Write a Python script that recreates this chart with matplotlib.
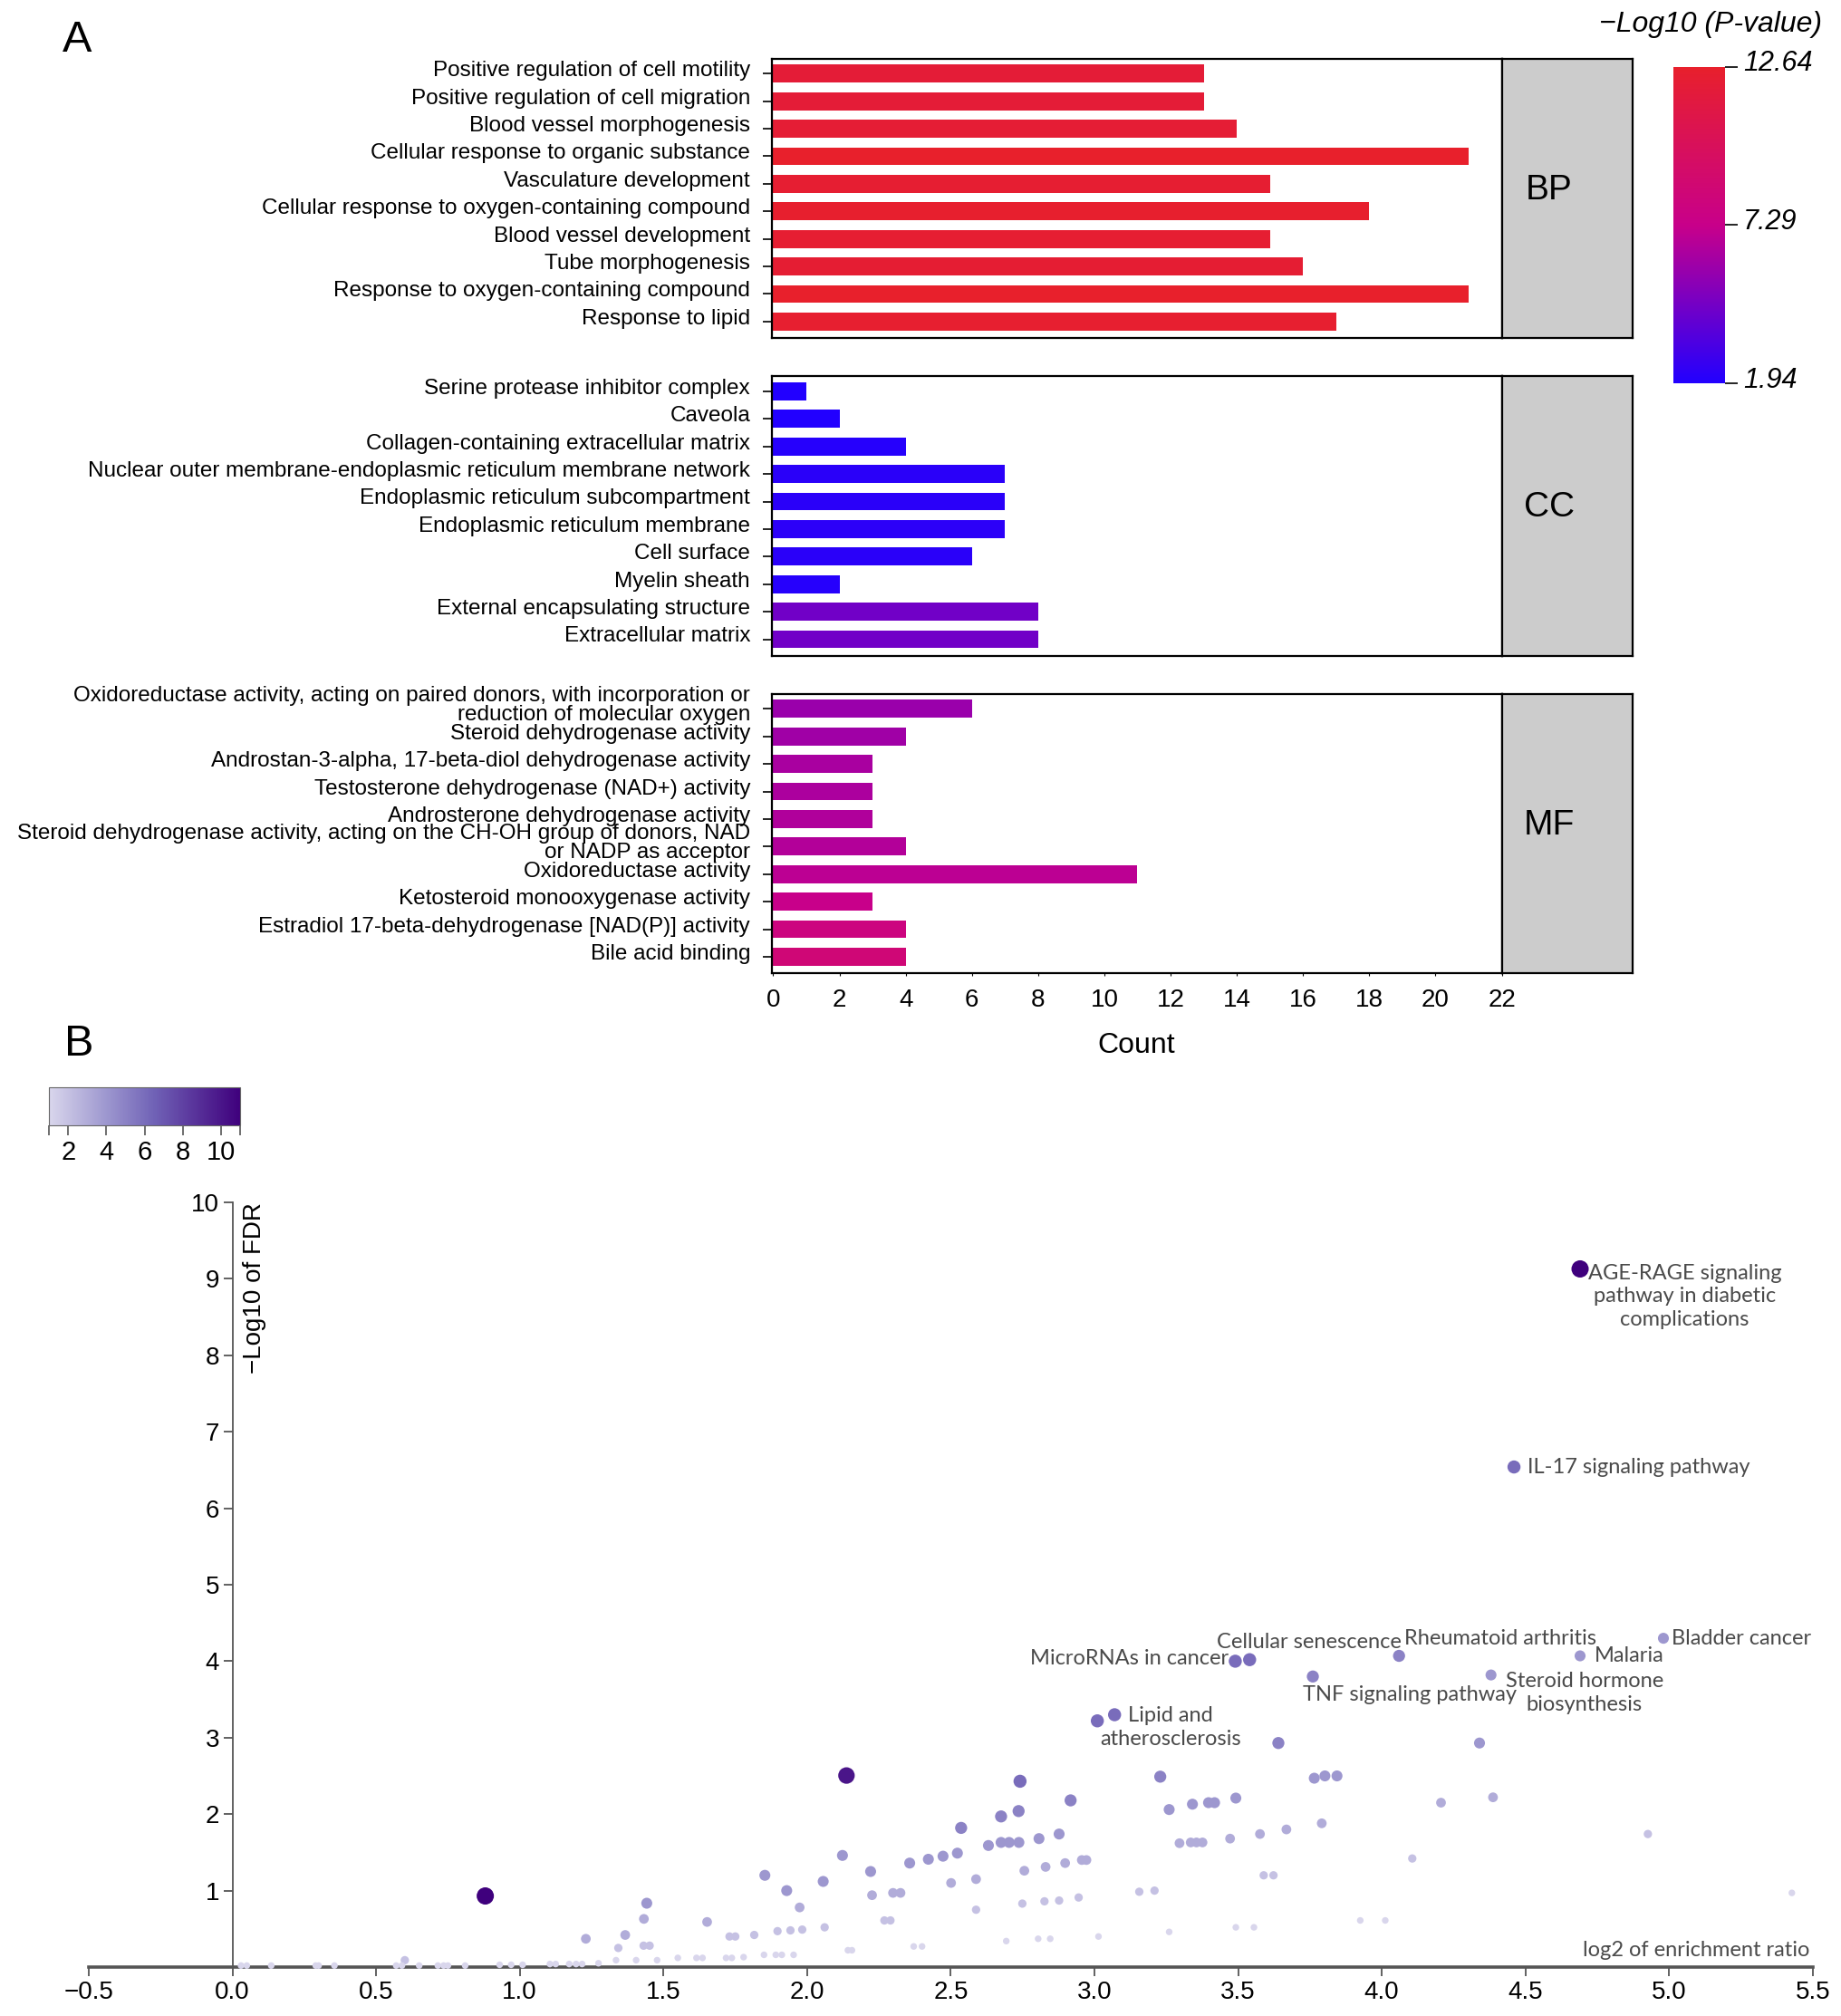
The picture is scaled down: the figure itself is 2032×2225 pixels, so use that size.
import numpy as np
import matplotlib
matplotlib.use("Agg")
import matplotlib.pyplot as plt
import matplotlib.cm as cm
import matplotlib.transforms as mtransforms
from matplotlib.colors import LinearSegmentedColormap, Normalize

plt.rcParams['font.family'] = ['Liberation Sans', 'DejaVu Sans']

# --------------------------
# Panel A: GO terms
# --------------------------
bp_terms = ["Positive regulation of cell motility",
            "Positive regulation of cell migration",
            "Blood vessel morphogenesis",
            "Cellular response to organic substance",
            "Vasculature development",
            "Cellular response to oxygen-containing compound",
            "Blood vessel development",
            "Tube morphogenesis",
            "Response to oxygen-containing compound",
            "Response to lipid"]
bp_count = [13, 13, 14, 21, 15, 18, 15, 16, 21, 17]
bp_logp = [12.0, 12.0, 12.1, 12.6, 12.3, 12.5, 12.3, 12.2, 12.64, 12.4]

cc_terms = ["Serine protease inhibitor complex",
            "Caveola",
            "Collagen-containing extracellular matrix",
            "Nuclear outer membrane-endoplasmic reticulum membrane network",
            "Endoplasmic reticulum subcompartment",
            "Endoplasmic reticulum membrane",
            "Cell surface",
            "Myelin sheath",
            "External encapsulating structure",
            "Extracellular matrix"]
cc_count = [1, 2, 4, 7, 7, 7, 6, 2, 8, 8]
cc_logp = [1.94, 1.98, 2.1, 2.2, 2.2, 2.3, 2.2, 2.1, 4.5, 4.5]

mf_terms = ["Oxidoreductase activity, acting on paired donors, with incorporation or\nreduction of molecular oxygen",
            "Steroid dehydrogenase activity",
            "Androstan-3-alpha, 17-beta-diol dehydrogenase activity",
            "Testosterone dehydrogenase (NAD+) activity",
            "Androsterone dehydrogenase activity",
            "Steroid dehydrogenase activity, acting on the CH-OH group of donors, NAD\nor NADP as acceptor",
            "Oxidoreductase activity",
            "Ketosteroid monooxygenase activity",
            "Estradiol 17-beta-dehydrogenase [NAD(P)] activity",
            "Bile acid binding"]
mf_count = [6, 4, 3, 3, 3, 4, 11, 3, 4, 4]
mf_logp = [5.8, 6.0, 6.3, 6.4, 6.5, 6.6, 6.9, 7.3, 7.9, 8.4]

count_ticks = list(range(0, 23, 2))
pval_ticks = [1.94, 7.29, 12.64]

# --------------------------
# Panel B: KEGG volcano
# --------------------------
kegg_x = [4.69, 4.46, 4.98, 4.69, 4.06, 3.49, 3.54, 3.76, 4.38, 3.01, 3.07, 3.64, 4.34, 2.137, 0.88,
          2.741, 2.675, 2.736, 2.536, 3.229, 2.917,
          2.631, 2.675, 2.703, 2.737, 2.523, 2.473, 2.422, 2.357, 2.123, 2.221, 2.056, 1.853, 1.929, 1.442,
          2.807, 2.877, 3.260, 3.341, 3.397, 3.418, 3.492, 3.765, 3.802, 3.844, 4.206, 4.387,
          1.974, 2.226, 2.299, 2.325, 2.501, 2.588, 2.756, 2.830, 2.898, 2.956, 2.972, 3.296, 3.335, 3.355,
          3.376, 3.472, 3.576, 3.668, 3.791, 1.432, 1.652, 1.367, 1.230,
          0.600, 1.343, 1.431, 1.452, 1.730, 1.750, 1.816, 1.897, 1.942, 1.983, 2.061, 2.269, 2.290, 2.588,
          2.749, 2.826, 2.877, 2.945, 3.156, 3.209, 3.589, 3.623, 4.106, 4.926,
          0.03, 0.05, 0.135, 0.29, 0.30, 0.355, 0.57, 0.59, 0.65, 0.715, 0.735, 0.75, 0.81,
          0.93, 0.97, 1.01, 1.105, 1.125, 1.172, 1.196, 1.217, 1.274,
          1.335, 1.405, 1.478, 1.55, 1.615, 1.636, 1.718, 1.738, 1.779, 1.850, 1.891, 1.912, 1.953,
          2.142, 2.156, 2.371, 2.400, 2.693, 2.804, 2.846, 3.014, 3.260, 3.492, 3.555, 3.925, 4.012, 5.427]
kegg_y = [9.13, 6.54, 4.30, 4.07, 4.07, 4.00, 4.02, 3.80, 3.82, 3.22, 3.30, 2.93, 2.93, 2.505, 0.93,
          2.43, 1.97, 2.04, 1.82, 2.49, 2.18,
          1.59, 1.63, 1.63, 1.63, 1.49, 1.45, 1.41, 1.36, 1.46, 1.25, 1.12, 1.20, 1.00, 0.835,
          1.68, 1.74, 2.06, 2.13, 2.15, 2.15, 2.21, 2.47, 2.50, 2.50, 2.15, 2.22,
          0.78, 0.94, 0.97, 0.97, 1.10, 1.15, 1.26, 1.31, 1.36, 1.40, 1.40, 1.62, 1.63, 1.63,
          1.63, 1.68, 1.74, 1.80, 1.88, 0.63, 0.59, 0.42, 0.37,
          0.09, 0.25, 0.28, 0.28, 0.40, 0.40, 0.42, 0.47, 0.48, 0.49, 0.52, 0.61, 0.61, 0.75,
          0.83, 0.86, 0.87, 0.91, 0.985, 1.00, 1.20, 1.20, 1.42, 1.74,
          0.02, 0.02, 0.02, 0.02, 0.02, 0.02, 0.02, 0.02, 0.02, 0.02, 0.02, 0.02, 0.02,
          0.03, 0.03, 0.03, 0.04, 0.04, 0.04, 0.04, 0.04, 0.05,
          0.09, 0.09, 0.09, 0.12, 0.12, 0.12, 0.12, 0.12, 0.13, 0.16, 0.16, 0.16, 0.16,
          0.22, 0.22, 0.27, 0.27, 0.34, 0.37, 0.37, 0.40, 0.46, 0.52, 0.52, 0.61, 0.61, 0.97]
kegg_count = [11, 6, 4, 4, 5, 6, 6, 5, 4, 6, 6, 5, 4, 10, 11,
              6, 5, 5, 5, 5, 5,
              4, 4, 4, 4, 4, 4, 4, 4, 4, 4, 4, 4, 4, 4,
              4, 4, 4, 4, 4, 4, 4, 4, 4, 4, 3, 3,
              3, 3, 3, 3, 3, 3, 3, 3, 3, 3, 3, 3, 3, 3,
              3, 3, 3, 3, 3, 3, 3, 3, 3,
              2, 2, 2, 2, 2, 2, 2, 2, 2, 2, 2, 2, 2, 2,
              2, 2, 2, 2, 2, 2, 2, 2, 2, 2,
              1, 1, 1, 1, 1, 1, 1, 1, 1, 1, 1, 1, 1,
              1, 1, 1, 1, 1, 1, 1, 1, 1,
              1, 1, 1, 1, 1, 1, 1, 1, 1, 1, 1, 1, 1,
              1, 1, 1, 1, 1, 1, 1, 1, 1, 1, 1, 1, 1, 1]

kegg_labels = ["AGE-RAGE signaling\npathway in diabetic\ncomplications",
               "IL-17 signaling pathway", "Bladder cancer", "Malaria",
               "Rheumatoid arthritis", "Cellular senescence", "MicroRNAs in cancer",
               "TNF signaling pathway", "Steroid hormone\nbiosynthesis",
               "Lipid and\natherosclerosis"]
label_x = [5.054, 4.508, 5.009, 4.74, 4.079, 3.426, 3.466, 3.725, 4.705, 3.265]
label_y = [8.77, 6.54, 4.30, 4.07, 4.29, 4.25, 4.03, 3.56, 3.585, 3.135]
label_ha = ["center", "left", "left", "left", "left", "left", "right", "left", "center", "center"]

fdr_ticks = list(range(1, 11))
ratio_ticks = [-0.5, 0.0, 0.5, 1.0, 1.5, 2.0, 2.5, 3.0, 3.5, 4.0, 4.5, 5.0, 5.5]
overlap_ticks = [2, 4, 6, 8, 10]

# --------------------------
# Figure
# --------------------------
fig = plt.figure(figsize=(20.32, 22.25), dpi=100)
lift = mtransforms.ScaledTranslation(0, 4 / 72, fig.dpi_scale_trans)

cmap_a = LinearSegmentedColormap.from_list("pval", ["#2200ff", "#c8008a", "#e8202c"])
norm_a = Normalize(1.94, 12.64)

panels = [("BP", bp_terms, bp_count, bp_logp, 0.8323),
          ("CC", cc_terms, cc_count, cc_logp, 0.6747),
          ("MF", mf_terms, mf_count, mf_logp, 0.5172)]
ph = 0.1387
for name, terms, counts, logp, bottom in panels:
    ax = fig.add_axes([0.4191, bottom, 0.3966, ph])
    ypos = np.arange(len(terms))
    ax.barh(ypos, counts, height=0.65, color=cmap_a(norm_a(np.array(logp))))
    ax.set_ylim(9.6, -0.55)
    ax.set_xlim(-0.05, 22)
    ax.set_yticks(ypos)
    ax.set_yticklabels(terms, fontsize=17.5, linespacing=0.95)
    ax.tick_params(axis='y', length=7, width=1.2, pad=10)
    for t in ax.get_yticklabels():
        t.set_transform(t.get_transform() + lift)
    for s in ax.spines.values():
        s.set_linewidth(1.6)
    if name == "MF":
        ax.set_xticks(count_ticks)
        ax.tick_params(axis='x', labelsize=20, length=2, pad=10)
        ax.set_xlabel("Count", fontsize=23, labelpad=16)
    else:
        ax.set_xticks([])
    strip = fig.add_axes([0.8157, bottom, 0.0711, ph])
    strip.set_facecolor("#cccccc")
    strip.set_xticks([])
    strip.set_yticks([])
    for s in strip.spines.values():
        s.set_linewidth(1.6)
    strip.text(0.36, 0.53, name, fontsize=28, ha='center', va='center', transform=strip.transAxes)

# colour bar for panel A
cax = fig.add_axes([0.9092, 0.8099, 0.028, 0.1569])
cb = fig.colorbar(cm.ScalarMappable(norm=norm_a, cmap=cmap_a), cax=cax)
cb.outline.set_visible(False)
cb.set_ticks(pval_ticks)
cb.set_ticklabels([f"{v:.2f}" for v in pval_ticks])
cax.tick_params(labelsize=22, length=10, width=1.2, pad=4)
lift_cb = mtransforms.ScaledTranslation(0, 5 / 72, fig.dpi_scale_trans)
for t in cax.get_yticklabels():
    t.set_style('italic')
    t.set_transform(t.get_transform() + lift_cb)
fig.text(0.9897, 0.9878, "\u2212Log10 (P-value)", ha='right', va='center', fontsize=23, style='italic')

fig.text(0.042, 0.980, "A", fontsize=35, ha='center', va='center')
fig.text(0.043, 0.4822, "B", fontsize=35, ha='center', va='center')

# --------------------------
# Panel B
# --------------------------
cmap_b = LinearSegmentedColormap.from_list(
    "overlap", [(0.0, "#d9d6ec"), (0.3, "#9d97cf"), (0.55, "#7062b6"), (1.0, "#3f007d")])

axb = fig.add_axes([0.0482, 0.02427, 0.9365, 0.3793])
axb.scatter(kegg_x, kegg_y, s=12 + 16 * np.array(kegg_count), c=kegg_count, cmap=cmap_b,
            vmin=1, vmax=11, linewidths=0, clip_on=False, zorder=3)
axb.set_xlim(-0.5, 5.5)
axb.set_ylim(0, 10)
axb.spines['top'].set_visible(False)
axb.spines['right'].set_visible(False)
axb.spines['left'].set_position(('data', 0))
axb.spines['left'].set_color('#555555')
axb.spines['left'].set_linewidth(1.3)
axb.spines['bottom'].set_color('#555555')
axb.spines['bottom'].set_linewidth(2.6)
axb.set_yticks(fdr_ticks)
axb.set_xticks(ratio_ticks)
axb.set_xticklabels([f"{v:.1f}".replace('-', '\u2212') for v in ratio_ticks])
axb.tick_params(axis='both', labelsize=20, length=7, width=1.3, color='#555555')
axb.text(0.076, 10, "\u2212Log10 of FDR", rotation=90, ha='center', va='top', fontsize=20)
axb.text(5.49, 0.22, "log2 of enrichment ratio", ha='right', va='center',
         fontsize=17, color='#4a4a4a', family=['Lato', 'DejaVu Sans'])
for lab, lx, ly, ha in zip(kegg_labels, label_x, label_y, label_ha):
    axb.text(lx, ly, lab, ha=ha, va='center', fontsize=17, color='#4a4a4a',
             linespacing=1.25, family=['Lato', 'DejaVu Sans'])

# colour bar for panel B
caxb = fig.add_axes([0.0266, 0.4418, 0.1038, 0.0189])
cbb = fig.colorbar(cm.ScalarMappable(norm=Normalize(1, 11), cmap=cmap_b), cax=caxb,
                   orientation='horizontal')
cbb.outline.set_edgecolor('#666666')
cbb.outline.set_linewidth(0.8)
cbb.set_ticks([1] + overlap_ticks + [11])
cbb.set_ticklabels([""] + [str(v) for v in overlap_ticks] + [""])
caxb.tick_params(labelsize=21, length=8, width=1.2, color='#555555')

fig.savefig("out.png", dpi=100)
